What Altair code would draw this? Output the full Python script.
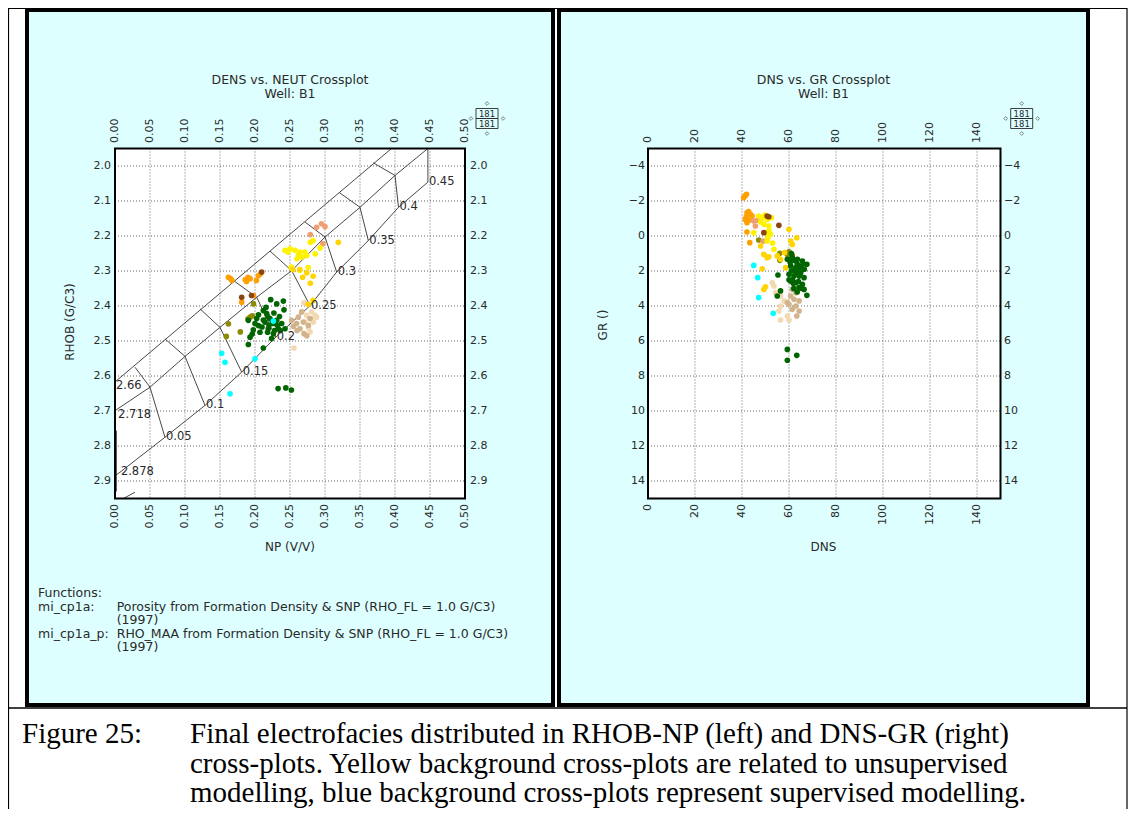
import altair as alt
import pandas as pd

FONT = "DejaVu Sans"
SERIF = "Liberation Serif"
INK = "#2a2a2a"
CYAN_BG = "#DDFFFF"

# ---------------- facies palette ----------------
FACIES = ["wheat", "tan", "cyan", "olive", "orange", "brown", "salmon", "yellow", "gold", "green"]
FACIES_COLORS = ["#F3D9B1", "#D2B48C", "#00FFFF", "#8B8B00", "#FFA000", "#8B4513",
                 "#EFA070", "#FFF200", "#FFD400", "#006400"]

# ---------------- left crossplot: NP (V/V) vs RHOB (G/C3) ----------------
L_WHEAT = [(0.2738, 2.427), (0.2810, 2.417), (0.2857, 2.427), (0.2714, 2.446), (0.2833, 2.446),
           (0.2762, 2.462), (0.2786, 2.474), (0.2557, 2.520), (0.2700, 2.391), (0.2810, 2.438),
           (0.2880, 2.432)]
L_TAN = [(0.2524, 2.441), (0.2595, 2.450), (0.2643, 2.465), (0.2700, 2.479), (0.2690, 2.446),
         (0.2762, 2.455), (0.2619, 2.432), (0.2548, 2.458), (0.2786, 2.436), (0.2667, 2.417),
         (0.2600, 2.470), (0.2740, 2.485)]
L_CYAN = [(0.1524, 2.535), (0.1571, 2.561), (0.2000, 2.551), (0.1643, 2.651), (0.2262, 2.443)]
L_OLIVE = [(0.193, 2.432), (0.196, 2.428), (0.190, 2.437), (0.162, 2.451), (0.159, 2.487),
           (0.179, 2.474), (0.198, 2.394)]
L_ORANGE = [(0.162, 2.318), (0.165, 2.322), (0.167, 2.327), (0.186, 2.325), (0.188, 2.330),
            (0.193, 2.322), (0.190, 2.318), (0.202, 2.327), (0.205, 2.313), (0.208, 2.308),
            (0.181, 2.389), (0.198, 2.370)]
L_BROWN = [(0.2095, 2.303), (0.181, 2.375), (0.195, 2.370)]
L_SALMON = [(0.288, 2.175), (0.295, 2.165), (0.300, 2.173), (0.279, 2.196), (0.297, 2.222)]
L_YELLOW = [(0.2429, 2.241), (0.250, 2.237), (0.257, 2.241), (0.264, 2.246), (0.271, 2.246),
            (0.279, 2.218), (0.283, 2.213), (0.260, 2.265), (0.267, 2.260), (0.274, 2.256),
            (0.286, 2.251), (0.252, 2.289), (0.264, 2.298), (0.276, 2.290), (0.247, 2.246),
            (0.262, 2.255), (0.293, 2.234)]
L_GOLD = [(0.319, 2.218), (0.254, 2.296), (0.264, 2.296), (0.274, 2.305), (0.283, 2.315),
          (0.279, 2.335), (0.283, 2.384), (0.276, 2.395), (0.268, 2.318)]
L_GREEN = [(0.2224, 2.382), (0.2310, 2.394), (0.2405, 2.386), (0.2414, 2.411), (0.2119, 2.413),
           (0.2167, 2.422), (0.2214, 2.436), (0.2262, 2.450), (0.2190, 2.465), (0.2262, 2.479),
           (0.2333, 2.465), (0.2381, 2.450), (0.2429, 2.465), (0.2024, 2.436), (0.1905, 2.441),
           (0.1976, 2.468), (0.2048, 2.456), (0.1929, 2.489), (0.1905, 2.510), (0.2119, 2.520),
           (0.2143, 2.446), (0.2238, 2.493), (0.2071, 2.475), (0.2157, 2.404), (0.2310, 2.441),
           (0.2180, 2.430), (0.2200, 2.455), (0.2280, 2.470), (0.2100, 2.460), (0.2050, 2.425),
           (0.2120, 2.440), (0.2250, 2.445), (0.2320, 2.455), (0.2360, 2.470), (0.2180, 2.475),
           (0.2000, 2.450), (0.1960, 2.480), (0.2270, 2.420), (0.2350, 2.430), (0.2330, 2.636),
           (0.2440, 2.634), (0.2520, 2.640)]

LEFT_SETS = [L_WHEAT, L_TAN, L_OLIVE, L_ORANGE, L_BROWN, L_SALMON, L_YELLOW, L_GOLD, L_GREEN, L_CYAN]
LEFT_NAMES = ["wheat", "tan", "olive", "orange", "brown", "salmon", "yellow", "gold", "green", "cyan"]

# ---------------- right crossplot: DNS vs GR ----------------
R_ORANGE = [(40.7, -2.19), (41.4, -2.30), (41.9, -2.38), (42.1, -1.33), (43.6, -1.24), (42.8, -1.40),
            (41.4, -0.95), (44.3, -1.14), (42.1, -0.76), (42.1, -0.23), (43.3, 0.38), (41.8, -1.10),
            (43.0, -0.90)]
R_SALMON = [(45.0, -0.86), (45.7, -0.57), (49.0, 0.29), (46.5, -0.90)]
R_YELLOW = [(47.1, -1.14), (48.6, -1.05), (50.7, -0.95), (49.3, -0.67), (51.4, -0.57), (50.7, -0.19),
            (52.1, -0.10), (50.7, 0.29), (45.0, -0.19), (53.6, 0.76), (48.0, -0.80), (51.5, -0.30),
            (52.5, -1.05), (49.8, -1.20), (51.0, 0.10), (53.0, 0.40)]
R_GOLD = [(60.0, -0.38), (60.7, 0.29), (61.4, 0.48), (63.3, 0.10), (49.3, 1.05), (50.7, 1.24),
          (51.4, 1.19), (55.0, 1.14), (56.4, 1.33), (48.6, 1.87), (58.6, 1.81), (49.3, 3.05),
          (47.9, 0.57), (58.1, 0.95), (50.0, 2.90)]
R_BROWN = [(50.7, -1.14), (51.4, -1.10), (55.7, -0.61), (49.3, -0.19)]
R_OLIVE = [(47.1, 0.23), (56.1, 0.99), (56.1, 1.39), (59.3, 1.05), (60.7, 1.14), (61.4, 1.10),
           (60.0, 0.90), (60.5, 1.00)]
R_CYAN = [(45.0, 1.68), (46.7, 2.38), (47.1, 3.52), (53.3, 4.42)]
R_GREEN = [(59.3, 1.33), (61.4, 1.24), (63.6, 1.33), (65.7, 1.43), (67.6, 1.62), (60.7, 1.71),
           (62.9, 1.81), (65.0, 1.75), (60.0, 2.19), (62.1, 2.29), (64.3, 2.29), (66.4, 2.38),
           (60.7, 2.57), (62.9, 2.67), (65.7, 2.76), (64.3, 2.95), (66.4, 3.05), (67.6, 3.39),
           (55.3, 2.23), (56.4, 3.14), (55.0, 3.43), (59.3, 6.48), (63.3, 6.82), (59.3, 7.10),
           (61.0, 2.00), (63.0, 2.10), (61.5, 2.50), (64.0, 2.60), (62.0, 3.00), (60.5, 1.50),
           (66.0, 1.60), (63.5, 1.60), (65.0, 2.10), (62.5, 1.40), (61.0, 1.00), (62.5, 1.90),
           (64.0, 1.90), (61.8, 2.70), (63.5, 3.20), (65.5, 3.00), (60.0, 2.50), (66.5, 1.90)]
R_TAN = [(61.4, 3.05), (62.9, 3.24), (60.7, 3.43), (62.1, 3.62), (60.0, 3.90), (62.9, 4.00),
         (61.4, 4.19), (64.3, 4.29), (63.3, 4.57), (59.3, 3.81), (64.3, 3.71), (63.0, 3.00)]
R_WHEAT = [(52.9, 2.67), (53.6, 2.86), (54.3, 3.24), (56.4, 3.43), (57.9, 3.71), (56.4, 4.00),
           (55.7, 4.29), (59.3, 4.57), (56.4, 4.80), (60.0, 4.80)]

RIGHT_SETS = [R_WHEAT, R_TAN, R_OLIVE, R_ORANGE, R_SALMON, R_YELLOW, R_GOLD, R_BROWN, R_GREEN, R_CYAN]
RIGHT_NAMES = ["wheat", "tan", "olive", "orange", "salmon", "yellow", "gold", "brown", "green", "cyan"]

# ---------------- ticks ----------------
NP_TICKS = [0.00, 0.05, 0.10, 0.15, 0.20, 0.25, 0.30, 0.35, 0.40, 0.45, 0.50]
RHOB_TICKS = [2.0, 2.1, 2.2, 2.3, 2.4, 2.5, 2.6, 2.7, 2.8, 2.9]
DNS_TICKS = [0, 20, 40, 60, 80, 100, 120, 140]
GR_TICKS = [-4, -2, 0, 2, 4, 6, 8, 10, 12, 14]

# ---------------- density-neutron chart overlay ----------------
LINE_A = [(0.0, 2.617), (0.395, 1.95)]
LINE_B = [(0.0, 2.699), (0.05, 2.632), (0.10, 2.544), (0.15, 2.461), (0.2024, 2.375), (0.2524, 2.299),
          (0.30, 2.203), (0.35, 2.118), (0.40, 2.027), (0.447, 1.95)]
LINE_C = [(0.0, 2.885), (0.0071, 2.875), (0.0714, 2.775), (0.1286, 2.684), (0.181, 2.589),
          (0.2296, 2.489), (0.2786, 2.399), (0.3167, 2.303), (0.3619, 2.213), (0.405, 2.118),
          (0.447, 2.046)]
LINE_D = [(0.002, 2.756), (0.002, 2.93)]
LINE_E = [(0.012, 2.95), (0.0286, 2.932)]
ISO_005 = [(0.0714, 2.775), (0.05, 2.632), (0.0286, 2.575)]
ISO_010 = [(0.1286, 2.684), (0.10, 2.544), (0.0714, 2.494)]
ISO_015 = [(0.181, 2.589), (0.15, 2.461), (0.1214, 2.408)]
ISO_020 = [(0.2296, 2.489), (0.2024, 2.375), (0.169, 2.327)]
ISO_025 = [(0.2786, 2.399), (0.2524, 2.299), (0.2214, 2.243)]
ISO_030 = [(0.3167, 2.303), (0.30, 2.203), (0.2714, 2.160)]
ISO_035 = [(0.3619, 2.213), (0.35, 2.118), (0.3205, 2.076)]
ISO_040 = [(0.405, 2.118), (0.40, 2.027), (0.369, 1.991)]
ISO_045 = [(0.447, 2.046), (0.447, 1.95)]
OVERLAY = [LINE_A, LINE_B, LINE_C, LINE_D, LINE_E, ISO_005, ISO_010, ISO_015, ISO_020,
           ISO_025, ISO_030, ISO_035, ISO_040, ISO_045]

POR_LABELS = ["0.05", "0.1", "0.15", "0.2", "0.25", "0.3", "0.35", "0.4", "0.45"]
POR_NP = [0.0714, 0.1286, 0.181, 0.2296, 0.2786, 0.3167, 0.3619, 0.405, 0.447]
POR_RHOB = [2.775, 2.684, 2.589, 2.489, 2.399, 2.303, 2.213, 2.118, 2.046]
MATRIX_LABELS = ["2.66", "2.718", "2.878"]
MATRIX_NP = [0.0, 0.003, 0.007]
MATRIX_RHOB = [2.629, 2.710, 2.875]

FUNC_LINES = ["Functions:", "mi_cp1a:", "mi_cp1a_p:"]
FUNC_DESC = ["Porosity from Formation Density & SNP (RHO_FL = 1.0 G/C3)", "(1997)",
             "RHO_MAA from Formation Density & SNP (RHO_FL = 1.0 G/C3)", "(1997)"]
CAPTION = ["Final electrofacies distributed in RHOB-NP (left) and DNS-GR (right)",
           "cross-plots. Yellow background cross-plots are related to unsupervised",
           "modelling, blue background cross-plots represent supervised modelling."]

# ---------------- build tables ----------------
def scatter_df(sets, names, xk, yk):
    rows = []
    for lst, nm in zip(sets, names):
        for a, b in lst:
            rows.append({xk: a, yk: b, "facies": nm})
    return pd.DataFrame(rows)

left_df = scatter_df(LEFT_SETS, LEFT_NAMES, "np", "rhob")
right_df = scatter_df(RIGHT_SETS, RIGHT_NAMES, "dns", "gr")

line_rows = []
for k, seg in enumerate(OVERLAY):
    for i, (a, b) in enumerate(seg):
        line_rows.append({"id": k, "i": i, "np": a, "rhob": b})
lines_df = pd.DataFrame(line_rows)
por_df = pd.DataFrame({"lab": POR_LABELS, "np": POR_NP, "rhob": POR_RHOB})
mat_df = pd.DataFrame({"lab": MATRIX_LABELS, "np": MATRIX_NP, "rhob": MATRIX_RHOB})

one = pd.DataFrame({"k": [0]})

# ---------------- scales (pixel ranges inside the 1120x801 canvas) ----------------
LX = alt.Scale(domain=[0, 0.5], range=[107, 457], nice=False, zero=False)
LY = alt.Scale(domain=[1.95, 2.95], range=[140.5, 490.5], nice=False, zero=False)
RX = alt.Scale(domain=[0, 150], range=[640, 992.5], nice=False, zero=False)
RY = alt.Scale(domain=[-5, 15], range=[140.5, 490.5], nice=False, zero=False)
COLOR = alt.Color("facies:N", scale=alt.Scale(domain=FACIES, range=FACIES_COLORS), legend=None)


def box(x, x2, y, y2, **kw):
    return alt.Chart(one).mark_rect(**kw).encode(
        x=alt.value(x), x2=alt.value(x2), y=alt.value(y), y2=alt.value(y2))


def rule(x, x2, y, y2, **kw):
    return alt.Chart(one).mark_rule(**kw).encode(
        x=alt.value(x), x2=alt.value(x2), y=alt.value(y), y2=alt.value(y2))


def txt(s, x, y, **kw):
    base = dict(font=FONT, fontSize=11, color=INK)
    base.update(kw)
    return alt.Chart(one).mark_text(text=s, **base).encode(x=alt.value(x), y=alt.value(y))


def tick_text(vals, xscale=None, yscale=None, xpos=None, ypos=None, fmt="", **kw):
    df = pd.DataFrame({"v": vals})
    base = dict(font=FONT, fontSize=11, color=INK)
    base.update(kw)
    enc = {"text": alt.Text("v:Q", format=fmt)}
    if xscale is not None:
        enc["x"] = alt.X("v:Q", scale=xscale, axis=None)
        enc["y"] = alt.value(ypos)
    else:
        enc["y"] = alt.Y("v:Q", scale=yscale, axis=None)
        enc["x"] = alt.value(xpos)
    return alt.Chart(df).mark_text(**base).encode(**enc)


def grid(vals, xscale=None, yscale=None, span=(0, 0)):
    df = pd.DataFrame({"v": vals})
    m = alt.Chart(df).mark_rule(color="#555555", strokeWidth=0.9, strokeDash=[1, 2])
    if xscale is not None:
        return m.encode(x=alt.X("v:Q", scale=xscale, axis=None), y=alt.value(span[0]), y2=alt.value(span[1]))
    return m.encode(y=alt.Y("v:Q", scale=yscale, axis=None), x=alt.value(span[0]), x2=alt.value(span[1]))


def count_box(cx):
    parts = [
        box(cx - 11, cx + 11, 100.5, 110.5, fill="white", fillOpacity=0, stroke=INK, strokeWidth=0.9),
        box(cx - 11, cx + 11, 110.5, 120.5, fill="white", fillOpacity=0, stroke=INK, strokeWidth=0.9),
        txt("181", cx, 106, fontSize=8.5, align="center", baseline="middle"),
        txt("181", cx, 116, fontSize=8.5, align="center", baseline="middle"),
    ]
    for (dx, dy) in [(0, -15), (0, 15), (-16, 0), (16, 0)]:
        parts.append(alt.Chart(one).mark_point(shape="diamond", filled=False, size=14, color=INK,
                                               strokeWidth=0.8).encode(x=alt.value(cx + dx), y=alt.value(110.5 + dy)))
    return parts


layers = []

# outer table lines and panels
layers.append(box(19, 545, 2, 697, fill=CYAN_BG, stroke="black", strokeWidth=4))
layers.append(box(551, 1080, 2, 697, fill=CYAN_BG, stroke="black", strokeWidth=4))
layers.append(rule(0.5, 0.5, 0, 801, color="black", strokeWidth=1.2))
layers.append(rule(1119, 1119, 0, 801, color="black", strokeWidth=1.2))
layers.append(rule(0, 1119, 0.5, 0.5, color="black", strokeWidth=1.2))
layers.append(rule(0, 1119, 700, 700, color="black", strokeWidth=1.5))

# ---- left panel ----
layers.append(box(107, 457, 140.5, 490.5, fill="white"))
layers.append(grid(NP_TICKS[1:-1], xscale=LX, span=(140.5, 490.5)))
layers.append(grid(RHOB_TICKS, yscale=LY, span=(107, 457)))
layers.append(alt.Chart(lines_df).mark_line(color="#333333", strokeWidth=0.9).encode(
    x=alt.X("np:Q", scale=LX, axis=None), y=alt.Y("rhob:Q", scale=LY, axis=None),
    detail="id:N", order="i:Q"))
layers.append(alt.Chart(left_df).mark_circle(size=32, opacity=1).encode(
    x=alt.X("np:Q", scale=LX, axis=None), y=alt.Y("rhob:Q", scale=LY, axis=None), color=COLOR))
layers.append(alt.Chart(por_df).mark_text(font=FONT, fontSize=11.5, color=INK, align="left",
                                          baseline="middle", dx=1).encode(
    x=alt.X("np:Q", scale=LX, axis=None), y=alt.Y("rhob:Q", scale=LY, axis=None), text="lab:N"))
layers.append(alt.Chart(mat_df).mark_text(font=FONT, fontSize=11.5, color=INK, align="left",
                                          baseline="middle", dx=1).encode(
    x=alt.X("np:Q", scale=LX, axis=None), y=alt.Y("rhob:Q", scale=LY, axis=None), text="lab:N"))
layers.append(box(107, 457, 140.5, 490.5, fillOpacity=0, stroke="black", strokeWidth=2))
layers.append(tick_text(NP_TICKS, xscale=LX, ypos=135, fmt=".2f", angle=270, align="left", baseline="middle"))
layers.append(tick_text(NP_TICKS, xscale=LX, ypos=496, fmt=".2f", angle=270, align="right", baseline="middle"))
layers.append(tick_text(RHOB_TICKS, yscale=LY, xpos=103, fmt=".1f", align="right", baseline="middle"))
layers.append(tick_text(RHOB_TICKS, yscale=LY, xpos=462, fmt=".1f", align="left", baseline="middle"))
layers.append(txt("DENS vs. NEUT Crossplot", 282, 72, fontSize=12.5, align="center", baseline="middle"))
layers.append(txt("Well: B1", 282, 85.5, fontSize=12.5, align="center", baseline="middle"))
layers.append(txt("NP (V/V)", 282, 539, fontSize=12, align="center", baseline="middle"))
layers.append(txt("RHOB (G/C3)", 62, 314, fontSize=12, align="center", baseline="middle", angle=270))
layers += count_box(479)
layers.append(txt(FUNC_LINES[0], 30, 585, fontSize=12.5, align="left", baseline="middle"))
layers.append(txt(FUNC_LINES[1], 30, 598.7, fontSize=12.5, align="left", baseline="middle"))
layers.append(txt(FUNC_LINES[2], 30, 626, fontSize=12.5, align="left", baseline="middle"))
for s, yy in zip(FUNC_DESC, [598.7, 612, 626, 639.3]):
    layers.append(txt(s, 108.7, yy, fontSize=12.5, align="left", baseline="middle"))

# ---- right panel ----
layers.append(box(640, 992.5, 140.5, 490.5, fill="white"))
layers.append(grid(DNS_TICKS[1:], xscale=RX, span=(140.5, 490.5)))
layers.append(grid(GR_TICKS, yscale=RY, span=(640, 992.5)))
layers.append(alt.Chart(right_df).mark_circle(size=32, opacity=1).encode(
    x=alt.X("dns:Q", scale=RX, axis=None), y=alt.Y("gr:Q", scale=RY, axis=None), color=COLOR))
layers.append(box(640, 992.5, 140.5, 490.5, fillOpacity=0, stroke="black", strokeWidth=2))
layers.append(tick_text(DNS_TICKS, xscale=RX, ypos=135, fmt="d", angle=270, align="left", baseline="middle"))
layers.append(tick_text(DNS_TICKS, xscale=RX, ypos=496, fmt="d", angle=270, align="right", baseline="middle"))
layers.append(tick_text(GR_TICKS, yscale=RY, xpos=637, fmt="d", align="right", baseline="middle"))
layers.append(tick_text(GR_TICKS, yscale=RY, xpos=996, fmt="d", align="left", baseline="middle"))
layers.append(txt("DNS vs. GR Crossplot", 815.5, 72, fontSize=12.5, align="center", baseline="middle"))
layers.append(txt("Well: B1", 815.5, 85.5, fontSize=12.5, align="center", baseline="middle"))
layers.append(txt("DNS", 815.5, 539, fontSize=12, align="center", baseline="middle"))
layers.append(txt("GR ()", 595, 317, fontSize=12, align="center", baseline="middle", angle=270))
layers += count_box(1013.7)

# ---- caption ----
CAP_SIZE = 29
layers.append(txt("Figure 25:", 14, 735, font=SERIF, fontSize=CAP_SIZE, color="black", align="left",
                  baseline="alphabetic"))
for s, yy in zip(CAPTION, [735, 764.5, 794]):
    layers.append(txt(s, 182, yy, font=SERIF, fontSize=CAP_SIZE, color="black", align="left",
                      baseline="alphabetic"))

chart = alt.layer(*layers).resolve_scale(
    x="independent", y="independent", color="independent"
).properties(
    width=1120, height=801, padding=0, background="white",
    autosize=alt.AutoSizeParams(type="none"),
).configure_view(stroke=None)

chart.save("out.html", embed_options={"renderer": "svg", "actions": False})
